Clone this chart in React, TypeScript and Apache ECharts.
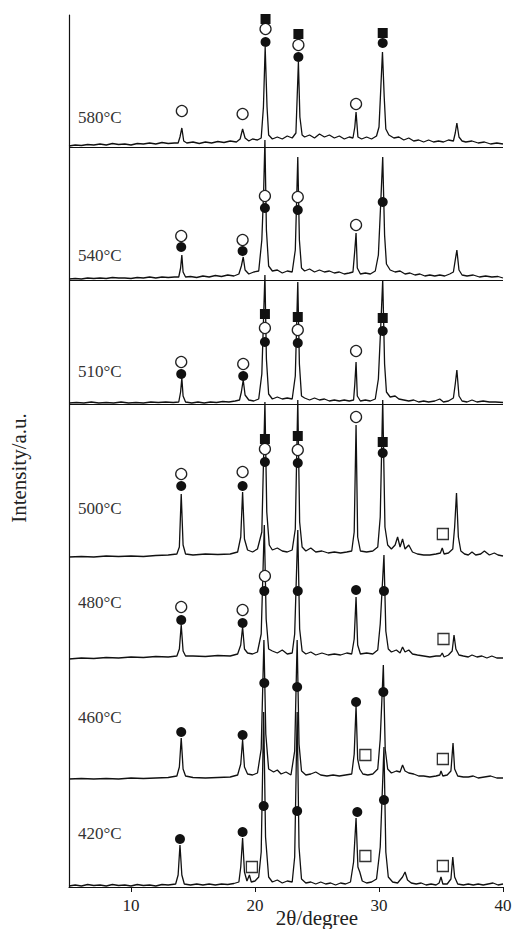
import React, { useEffect, useRef } from "react";
import * as echarts from "echarts";

const samples = ["420°C", "460°C", "480°C", "500°C", "510°C", "540°C", "580°C"];
const offsets = [0, 108, 228, 330, 483, 607, 740];
const labelCenters = [833, 717, 602, 508, 371, 255, 117];
const xTicks = [10, 20, 30, 40];

const trace420 = [[5,1],[5.5,2],[6,1],[6.5,2.5],[7,1.5],[7.5,2],[8,1],[8.5,2.5],[9,1.5],[9.5,2],[10,1],[10.5,2.5],[11,1.5],[11.5,2],[12,1],[12.5,2.5],[13,2],[13.6,3],[13.8,12],[13.95,42],[14.1,12],[14.3,3],[14.8,2],[15.3,3],[15.8,2],[16.3,3],[16.8,2],[17.3,3],[17.8,2.5],[18.3,3.5],[18.7,5],[18.85,20],[19.0,49],[19.15,15],[19.35,6],[19.55,12],[19.7,5],[20.0,6],[20.3,10],[20.5,35],[20.7,175],[20.85,50],[21.1,10],[21.4,5],[21.8,7],[22.2,4],[22.6,6],[23.0,5],[23.2,30],[23.4,175],[23.55,40],[23.75,8],[24.1,4],[24.5,5],[24.9,3],[25.3,5],[25.7,3],[26.1,4],[26.5,2],[26.9,4],[27.3,3],[27.7,5],[27.95,25],[28.15,69],[28.3,20],[28.45,15],[28.65,6],[29.0,4],[29.4,5],[29.8,8],[30.1,40],[30.4,140],[30.55,35],[30.75,10],[31.1,5],[31.5,4],[31.9,10],[32.1,15],[32.3,7],[32.6,4],[33.0,3],[33.4,4],[33.8,2],[34.2,3],[34.6,2],[34.85,4],[35.0,10],[35.15,3],[35.5,3],[35.8,8],[35.95,30],[36.1,10],[36.35,3],[36.8,2],[37.2,3],[37.6,2],[38.0,3],[38.4,2],[38.8,3],[39.2,4],[39.6,2],[40,3]];

const trace460 = [[5,0],[6,0.5],[7,0],[8,0.5],[9,0],[10,1],[11,0.5],[12,1],[13,1.5],[13.7,3],[13.9,12],[14.05,41],[14.2,10],[14.4,3],[15,1.5],[16,1],[17,1.5],[18,2],[18.6,4],[18.85,15],[19.0,39],[19.15,12],[19.4,5],[19.8,4],[20.2,6],[20.5,30],[20.72,139],[20.87,45],[21.1,10],[21.5,7],[21.8,9],[22.1,5],[22.5,7],[22.9,4],[23.2,28],[23.4,139],[23.55,35],[23.75,8],[24.1,4],[24.5,5],[24.9,7],[25.3,4],[25.8,3],[26.3,4],[26.8,3],[27.3,4],[27.8,5],[28.0,25],[28.15,73],[28.28,20],[28.45,10],[28.7,5],[29.1,4],[29.5,5],[29.9,10],[30.1,40],[30.35,114],[30.5,30],[30.7,10],[31.0,6],[31.4,8],[31.7,7],[31.9,14],[32.1,8],[32.4,6],[32.8,5],[33.2,3],[33.6,3],[34.1,2],[34.6,3],[34.9,4],[35.0,8],[35.15,3],[35.5,4],[35.8,8],[35.97,36],[36.1,10],[36.35,3],[36.8,2],[37.2,2],[37.6,3],[38.0,1],[38.5,2],[39,3],[39.5,1],[40,1]];

const trace480 = [[5,0],[6,1],[7,0.5],[8,1.5],[9,1],[10,2],[11,1.5],[12,2.5],[13,2],[13.7,3],[13.9,10],[14.05,34],[14.2,8],[14.4,3],[15,3],[16,2.5],[17,3.5],[18,3],[18.6,5],[18.85,14],[19.0,32],[19.15,10],[19.4,6],[19.8,5],[20.2,7],[20.5,25],[20.75,134],[20.9,40],[21.1,10],[21.4,8],[21.8,6],[22.2,9],[22.6,5],[23.0,6],[23.2,25],[23.45,129],[23.6,30],[23.8,8],[24.1,5],[24.5,7],[24.9,4],[25.4,6],[25.9,4],[26.4,5],[26.9,4],[27.4,6],[27.8,5],[28.0,20],[28.15,62],[28.28,14],[28.5,5],[29,6],[29.5,5],[29.9,9],[30.1,35],[30.4,104],[30.55,28],[30.75,10],[31.0,7],[31.4,9],[31.7,6],[31.9,12],[32.1,7],[32.4,9],[32.7,5],[33.1,4],[33.6,3],[34.1,2],[34.6,3],[34.95,3],[35.1,6],[35.25,2],[35.6,4],[35.9,8],[36.05,24],[36.2,10],[36.45,4],[36.8,3],[37.2,2],[37.5,4],[37.9,2],[38.3,3],[38.7,1],[39.1,3],[39.5,1],[40,1]];

const trace500 = [[5,0],[6,0.5],[7,0],[8,1],[9,0.5],[10,1],[11,0.5],[12,1.5],[13,2],[13.7,3],[13.9,10],[14.05,63],[14.2,12],[14.4,3],[15,2],[16,3],[17,2.5],[18,3],[18.6,5],[18.85,20],[19.0,65],[19.15,18],[19.4,7],[19.8,5],[20.2,8],[20.55,25],[20.8,155],[20.95,45],[21.15,12],[21.4,7],[21.8,9],[22.2,6],[22.6,5],[23.0,7],[23.25,28],[23.45,157],[23.6,35],[23.8,10],[24.1,6],[24.5,9],[24.9,5],[25.4,6],[25.9,4],[26.4,5],[26.9,4],[27.4,5],[27.8,6],[28.0,25],[28.15,132],[28.28,20],[28.5,6],[29,5],[29.5,6],[29.9,10],[30.1,40],[30.3,157],[30.48,30],[30.7,12],[31.0,8],[31.3,12],[31.5,20],[31.7,10],[31.9,18],[32.1,8],[32.4,12],[32.7,5],[33.1,3],[33.6,2],[34.1,2],[34.6,3],[34.95,4],[35.1,9],[35.25,3],[35.6,4],[35.95,8],[36.1,30],[36.25,64],[36.4,20],[36.6,6],[36.9,3],[37.2,2],[37.5,5],[37.8,2],[38.2,3],[38.5,6],[38.9,2],[39.3,4],[39.6,2],[40,1]];

const trace510 = [[5,1],[5.6,1.5],[6.2,1],[6.8,2],[7.4,1],[8,1.5],[8.6,1],[9.2,2],[9.8,1],[10.4,1.5],[11,1],[11.6,2],[12.2,1.5],[12.8,2],[13.4,1.5],[13.85,2],[14.0,12],[14.1,26],[14.2,8],[14.4,2],[14.9,1],[15.4,2],[15.9,1],[16.4,2],[16.9,1.5],[17.4,2.5],[17.9,2],[18.4,3],[18.75,4],[18.9,12],[19.05,24],[19.2,9],[19.5,4],[19.9,3],[20.3,5],[20.55,30],[20.7,90],[20.8,129],[20.92,45],[21.1,10],[21.4,5],[21.8,7],[22.2,5],[22.6,6],[23.0,5],[23.25,28],[23.45,122],[23.58,40],[23.75,8],[24,6],[24.4,4],[24.8,6],[25.2,4],[25.6,5],[26,3],[26.4,4],[26.8,3],[27.2,4],[27.6,3],[27.95,4],[28.05,20],[28.15,42],[28.25,8],[28.5,3],[28.9,4],[29.3,3],[29.7,5],[29.95,25],[30.15,80],[30.3,124],[30.45,40],[30.6,12],[30.9,7],[31.3,8],[31.6,5],[32,4],[32.4,3],[32.8,4],[33.2,2],[33.6,3],[34,2],[34.5,3],[34.9,5],[35.2,2],[35.6,3],[36.0,6],[36.15,20],[36.28,34],[36.45,8],[36.7,3],[37.1,2],[37.5,4],[37.9,2],[38.4,3],[38.9,2],[39.4,2],[40,1.5]];

const trace540 = [[5,1],[5.5,1.5],[6,1],[6.5,2],[7,1.5],[7.5,2],[8,1.5],[8.5,2.5],[9,2],[9.5,2],[10,1.5],[10.5,2.5],[11,2],[11.5,3],[12,2],[12.5,3],[13,2.5],[13.5,3],[13.85,3],[14.0,12],[14.1,25],[14.2,8],[14.4,3],[14.8,3.5],[15.3,2.5],[15.8,4],[16.3,3],[16.8,4.5],[17.3,3.5],[17.8,5],[18.3,4],[18.7,6],[18.9,14],[19.05,23],[19.2,10],[19.5,6],[19.9,8],[20.3,9],[20.55,40],[20.7,90],[20.8,140],[20.92,50],[21.1,14],[21.4,9],[21.8,10],[22.2,7],[22.6,9],[23.0,8],[23.25,30],[23.45,123],[23.58,40],[23.75,12],[24,9],[24.4,11],[24.8,8],[25.2,10],[25.6,8],[26,9],[26.4,7],[26.8,8],[27.2,6],[27.6,7],[27.9,8],[28.05,30],[28.15,47],[28.25,12],[28.5,6],[28.9,7],[29.3,6],[29.7,9],[29.95,25],[30.15,80],[30.3,123],[30.45,45],[30.6,16],[30.9,10],[31.3,8],[31.7,9],[32.1,6],[32.5,7],[32.9,5],[33.3,6],[33.7,4],[34.1,5],[34.5,4],[34.9,5],[35.3,4],[35.7,6],[36.0,8],[36.15,20],[36.28,30],[36.45,10],[36.7,5],[37.1,4],[37.6,5],[38.1,3],[38.6,4],[39.1,3],[39.6,3.5],[40,2]];

const trace580 = [[5,1],[5.5,2],[6,1.5],[6.5,2.5],[7,2],[7.5,3],[8,2],[8.5,3.5],[9,2.5],[9.5,3],[10,2],[10.5,3.5],[11,3],[11.5,4],[12,3],[12.5,4.5],[13,3.5],[13.5,4],[13.8,4],[13.95,10],[14.1,19],[14.25,6],[14.5,4],[15,5],[15.5,3.5],[16,5],[16.5,4],[17,5.5],[17.5,4.5],[18,6],[18.5,5],[18.8,8],[19.0,18],[19.2,9],[19.5,6],[19.8,8],[20.2,7],[20.5,9],[20.68,40],[20.82,100],[20.97,40],[21.1,12],[21.4,8],[21.8,10],[22.2,8],[22.6,11],[23.0,9],[23.3,14],[23.5,85],[23.62,30],[23.8,12],[24,10],[24.4,12],[24.8,9],[25.2,13],[25.6,10],[26,12],[26.4,9],[26.8,11],[27.2,8],[27.6,10],[27.9,9],[28.05,20],[28.15,35],[28.3,10],[28.6,8],[29,10],[29.4,8],[29.8,11],[30.0,20],[30.15,60],[30.28,95],[30.42,50],[30.55,18],[30.8,12],[31.2,9],[31.6,10],[32,7],[32.4,9],[32.8,6],[33.2,7],[33.6,5],[34,7],[34.4,5],[34.8,6],[35.2,5],[35.6,7],[36,6],[36.15,14],[36.28,24],[36.45,10],[36.7,6],[37,5],[37.5,6],[38,4],[38.5,5],[39,3],[39.5,4],[40,3]];

const traces = [trace420, trace460, trace480, trace500, trace510, trace540, trace580];
const separatorSamples = [4, 5, 6];

// [sample index, 2θ, height above that sample's baseline]
const filledCircles = [
  [0,13.95,48],[0,19.0,55],[0,20.7,81],[0,23.4,76],[0,28.25,75],[0,30.4,87],
  [1,14.05,47],[1,19.0,44],[1,20.75,96],[1,23.4,92],[1,28.15,77],[1,30.35,87],
  [2,14.05,39],[2,19.0,36],[2,20.75,68],[2,23.45,68],[2,28.15,69],[2,30.4,68],
  [3,14.05,71],[3,19.0,71],[3,20.8,95],[3,23.45,94],[3,30.3,104],
  [4,14.05,30],[4,19.05,28],[4,20.8,62],[4,23.45,61],[4,30.3,73],
  [5,14.05,33],[5,19.0,29],[5,20.8,72],[5,23.45,70],[5,30.3,78],
  [6,20.85,105],[6,23.5,90],[6,30.3,104]
];
const openCircles = [
  [2,14.05,52],[2,19.0,49],[2,20.8,83],
  [3,14.05,83],[3,19.0,85],[3,20.8,108],[3,23.45,107],[3,28.15,140],
  [4,14.05,42],[4,19.05,40],[4,20.8,76],[4,23.45,74],[4,28.15,53],
  [5,14.05,44],[5,19.0,40],[5,20.8,84],[5,23.45,83],[5,28.15,55],
  [6,14.1,36],[6,19.0,33],[6,20.85,118],[6,23.5,102],[6,28.15,43]
];
const filledSquares = [
  [3,20.8,118],[3,23.45,121],[3,30.3,115],
  [4,20.8,90],[4,23.45,87],[4,30.3,86],
  [6,20.85,128],[6,23.5,113],[6,30.3,114]
];
const openSquares = [
  [0,19.75,20],[0,28.9,31],[0,35.15,21],
  [1,28.9,24],[1,35.15,20],
  [2,35.2,20],
  [3,35.15,23]
];

const FONT = '"Liberation Serif", "DejaVu Serif", serif';
const INK = "#111111";

const place = (list: number[][]) => list.map(([s, x, h]) => [x, h + offsets[s]]);

export default function App() {
  const ref = useRef<HTMLDivElement>(null);
  useEffect(() => {
    if (!ref.current) return;
    const chart = echarts.init(ref.current, null, { renderer: "svg" });
    const lineSeries = traces.map((t, i) => {
      const s: any = {
        type: "line",
        name: samples[i],
        data: t.map(([x, h]) => [x, h + offsets[i]]),
        symbol: "none",
        lineStyle: { color: INK, width: 1.3 },
        z: 2,
        silent: true,
      };
      if (separatorSamples.includes(i)) {
        s.markLine = {
          silent: true,
          symbol: ["none", "none"],
          label: { show: false },
          lineStyle: { color: INK, width: 1.2, type: "solid" },
          data: [{ yAxis: offsets[i] }],
        };
      }
      return s;
    });
    const option: any = {
      animation: false,
      grid: { left: 69, right: 11, top: 15, bottom: 42, outerBoundsMode: "none", containLabel: false },
      xAxis: {
        type: "value",
        min: 5,
        max: 40,
        axisLine: { lineStyle: { color: INK, width: 1.2 } },
        axisTick: { customValues: xTicks, length: 5, lineStyle: { color: INK } },
        axisLabel: { customValues: xTicks, fontFamily: FONT, fontSize: 17, color: "#222", margin: 10 },
        splitLine: { show: false },
      },
      yAxis: {
        type: "value",
        min: 0,
        max: 872,
        axisLine: { show: true, lineStyle: { color: INK, width: 1.2 } },
        axisTick: { show: false },
        axisLabel: { show: false },
        splitLine: { show: false },
      },
      graphic: [
        ...samples.map((s, i) => ({
          type: "text",
          x: 78,
          y: labelCenters[i],
          style: { text: s, font: `17px ${FONT}`, fill: "#333", textVerticalAlign: "middle" },
        })),
        {
          type: "text",
          x: 19,
          y: 468,
          rotation: Math.PI / 2,
          style: {
            text: "Intensity/a.u.",
            font: `21px ${FONT}`,
            fill: "#222",
            textAlign: "center",
            textVerticalAlign: "middle",
          },
        },
        {
          type: "text",
          x: 317,
          y: 928,
          style: {
            text: "2θ/degree",
            font: `21px ${FONT}`,
            fill: "#222",
            textAlign: "center",
            textVerticalAlign: "bottom",
          },
        },
      ],
      series: [
        ...lineSeries,
        {
          type: "scatter",
          data: place(filledCircles),
          symbol: "circle",
          symbolSize: 10,
          itemStyle: { color: INK, opacity: 1 },
          z: 5,
          silent: true,
        },
        {
          type: "scatter",
          data: place(openCircles),
          symbol: "circle",
          symbolSize: 11,
          itemStyle: { color: "#fff", borderColor: "#222", borderWidth: 1.3, opacity: 1 },
          z: 5,
          silent: true,
        },
        {
          type: "scatter",
          data: place(filledSquares),
          symbol: "rect",
          symbolSize: 10,
          itemStyle: { color: INK, opacity: 1 },
          z: 5,
          silent: true,
        },
        {
          type: "scatter",
          data: place(openSquares),
          symbol: "rect",
          symbolSize: 11,
          itemStyle: { color: "#fff", borderColor: "#333", borderWidth: 1.3, opacity: 1 },
          z: 5,
          silent: true,
        },
      ],
    };
    chart.setOption(option);
    return () => chart.dispose();
  }, []);
  return (
    <div
      ref={ref}
      style={{ position: "fixed", left: 0, top: 0, width: 514, height: 929, background: "#fff" }}
    />
  );
}
